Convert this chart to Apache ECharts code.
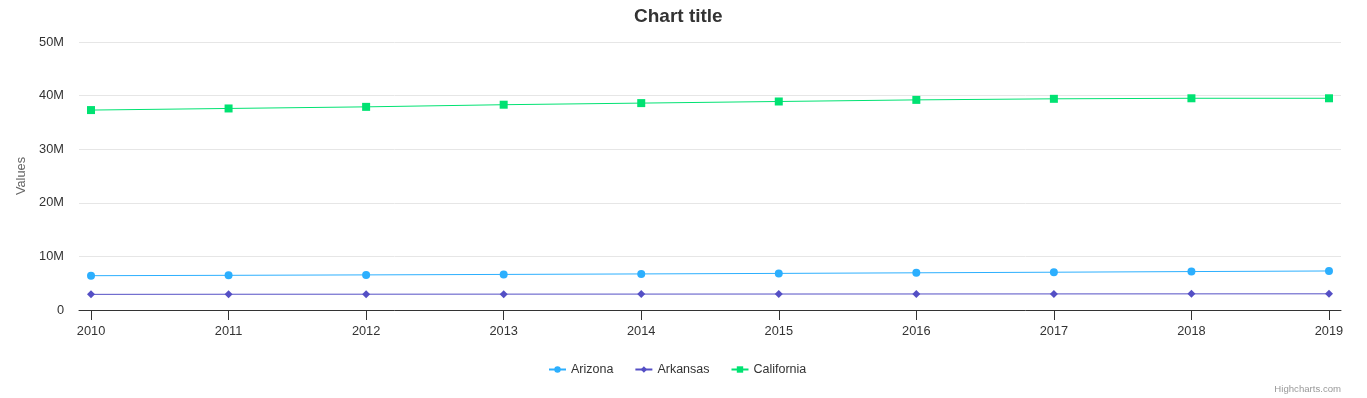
<!DOCTYPE html>
<html>
<head>
<meta charset="UTF-8">
<title>Chart title</title>
<script src="https://cdn.jsdelivr.net/npm/echarts@6/dist/echarts.min.js"></script>
<style>
  html, body { margin: 0; padding: 0; background: #fff; }
  #main { width: 1367px; height: 398px; }
</style>
</head>
<body>
<div id="main"></div>
<script type="text/javascript">
// data
var years = [2010, 2011, 2012, 2013, 2014, 2015, 2016, 2017, 2018, 2019];
var arizona = [6.40e6, 6.47e6, 6.55e6, 6.64e6, 6.73e6, 6.83e6, 6.94e6, 7.05e6, 7.17e6, 7.28e6];
var arkansas = [2.92e6, 2.94e6, 2.95e6, 2.96e6, 2.97e6, 2.98e6, 2.99e6, 3.00e6, 3.01e6, 3.02e6];
var california = [37.3e6, 37.6e6, 37.9e6, 38.3e6, 38.6e6, 38.9e6, 39.2e6, 39.4e6, 39.5e6, 39.5e6];

function pairs(vals) {
  var out = [];
  for (var i = 0; i < years.length; i++) out.push([years[i], vals[i]]);
  return out;
}

var font = '"Liberation Sans", Arial, Helvetica, sans-serif';
var myChart = echarts.init(document.getElementById('main'));

var option = {
  animation: false,
  textStyle: { fontFamily: font },
  title: {
    text: 'Chart title',
    left: 629,
    top: 2,
    textStyle: { fontSize: 19, fontWeight: 'bold', color: '#333', fontFamily: font }
  },
  legend: {
    top: 358,
    left: 543,
    itemGap: 21,
    itemWidth: 17,
    itemHeight: 8,
    textStyle: { fontSize: 12.5, color: '#333', fontFamily: font },
    data: ['Arizona', 'Arkansas', 'California']
  },
  grid: { left: 79, right: 26, top: 42, bottom: 88, containLabel: false },
  xAxis: {
    type: 'value',
    min: 2009.9126,
    max: 2019.0874,
    splitLine: { show: false },
    axisLine: { show: true, lineStyle: { color: '#333', width: 1 } },
    axisTick: { show: true, length: 10, customValues: years, lineStyle: { color: '#333' } },
    axisLabel: {
      customValues: years,
      color: '#333',
      fontSize: 12.8,
      margin: 15,
      formatter: function (v) { return String(Math.round(v)); }
    }
  },
  yAxis: {
    type: 'value',
    min: 0,
    max: 50e6,
    interval: 10e6,
    name: 'Values',
    nameLocation: 'middle',
    nameGap: 43,
    nameTextStyle: { color: '#666', fontSize: 12.8 },
    axisLine: { show: false },
    axisTick: { show: false },
    splitLine: { lineStyle: { color: '#e6e6e6', width: 1 } },
    axisLabel: {
      color: '#333',
      fontSize: 12.8,
      margin: 15,
      padding: [7, 0, 0, 0],
      formatter: function (v) { return v === 0 ? '0' : (v / 1e6) + 'M'; }
    }
  },
  series: [
    {
      name: 'Arizona', type: 'line', data: pairs(arizona),
      symbol: 'circle', symbolSize: 8,
      itemStyle: { color: '#2caffe' },
      lineStyle: { color: '#2caffe', width: 1 }
    },
    {
      name: 'Arkansas', type: 'line', data: pairs(arkansas),
      symbol: 'diamond', symbolSize: 8,
      itemStyle: { color: '#544fc5' },
      lineStyle: { color: '#544fc5', width: 1 }
    },
    {
      name: 'California', type: 'line', data: pairs(california),
      symbol: 'rect', symbolSize: 8,
      itemStyle: { color: '#00e272' },
      lineStyle: { color: '#00e272', width: 1 }
    }
  ],
  graphic: [
    {
      type: 'text',
      right: 26,
      top: 384,
      style: { text: 'Highcharts.com', fill: '#999', fontSize: 9.6, fontFamily: font }
    }
  ]
};

myChart.setOption(option);
</script>
</body>
</html>
